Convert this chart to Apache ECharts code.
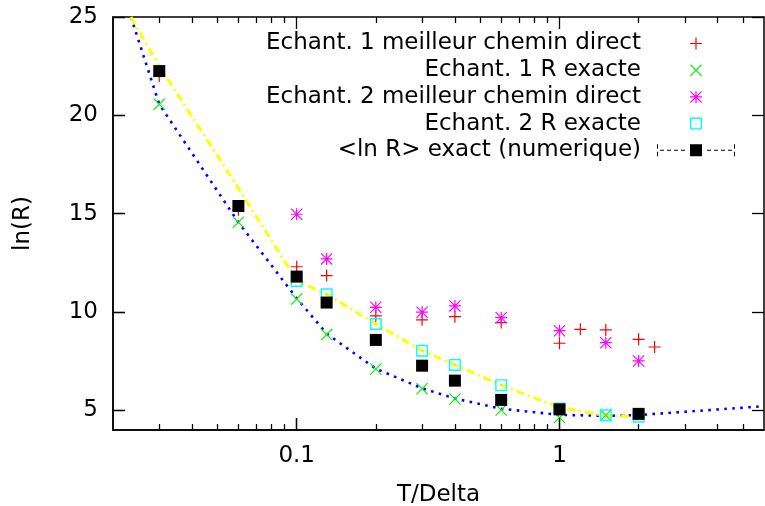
<!DOCTYPE html>
<html>
<head>
<meta charset="utf-8">
<script src="https://cdn.jsdelivr.net/npm/echarts@6/dist/echarts.min.js"></script>
<style>
  html, body { margin: 0; padding: 0; background: #fff; }
  #chart { width: 765px; height: 506px; }
</style>
</head>
<body>
<div id="chart"></div>
<script>
// Echant. 1 meilleur chemin direct (+)
const ech1DirX = [0.03, 0.06, 0.1, 0.13, 0.2, 0.3, 0.4, 0.6, 1, 1.2, 1.5, 2, 2.3];
const ech1DirY = [22.0, 15.2, 12.3, 11.85, 9.8, 9.6, 9.76, 9.46, 8.41, 9.12, 9.09, 8.61, 8.22];

// Echant. 1 R exacte (x)
const ech1ExactX = [0.03, 0.06, 0.1, 0.13, 0.2, 0.3, 0.4, 0.6, 1, 1.5];
const ech1ExactY = [20.56, 14.56, 10.66, 8.85, 7.10, 6.10, 5.58, 5.02, 4.63, 4.75];

// Echant. 2 meilleur chemin direct (*)
const ech2DirX = [0.1, 0.13, 0.2, 0.3, 0.4, 0.6, 1, 1.5, 2];
const ech2DirY = [14.97, 12.70, 10.24, 9.99, 10.31, 9.71, 9.05, 8.44, 7.51];

// Echant. 2 R exacte (open square)
const ech2ExactX = [0.1, 0.13, 0.2, 0.3, 0.4, 0.6, 1, 1.5, 2];
const ech2ExactY = [11.58, 10.90, 9.39, 8.03, 7.31, 6.28, 5.09, 4.75, 4.68];

// <ln R> exact (numerique) (filled square)
const lnRX = [0.03, 0.06, 0.1, 0.13, 0.2, 0.3, 0.4, 0.6, 1, 2];
const lnRY = [22.25, 15.39, 11.80, 10.48, 8.58, 7.27, 6.51, 5.53, 5.05, 4.82];

// blue dotted curve
const blueX = [0.0234, 0.03, 0.06, 0.1, 0.13, 0.2, 0.3, 0.4, 0.6, 1, 1.5, 2, 6];
const blueY = [25, 20.56, 14.56, 10.7, 8.9, 7.12, 6.12, 5.6, 5.08, 4.77, 4.72, 4.76, 5.21];

// yellow dash-dot curve
const yellowX = [0.0234, 0.03, 0.06, 0.1, 0.13, 0.2, 0.3, 0.4, 0.6, 1, 1.5, 2];
const yellowY = [25, 22.5, 16.3, 11.6, 10.9, 9.39, 8.03, 7.31, 6.28, 5.15, 4.73, 4.68];

const xMin = 0.02, xMax = 6, yMin = 4, yMax = 25;
const xMajorTicks = [0.1, 1];
const xMinorTicks = [0.03, 0.04, 0.05, 0.06, 0.07, 0.08, 0.09,
                     0.2, 0.3, 0.4, 0.5, 0.6, 0.7, 0.8, 0.9, 2, 3, 4, 5];
const yTicks = [5, 10, 15, 20, 25];

const FONT = "DejaVu Sans";

function zip(xs, ys) {
    return xs.map((x, i) => [x, ys[i]]);
}

const plusPath = "path://M-0.6,-6L0.6,-6L0.6,6L-0.6,6Z M-6,-0.6L6,-0.6L6,0.6L-6,0.6Z";
const crossPath = "path://M-6,-5.2L-5.2,-6L6,5.2L5.2,6Z M5.2,-6L6,-5.2L-5.2,6L-6,5.2Z";
const starPath = "path://M-0.6,-6L0.6,-6L0.6,6L-0.6,6Z M-6,-0.6L6,-0.6L6,0.6L-6,0.6Z " +
    "M-6,-5.2L-5.2,-6L6,5.2L5.2,6Z M5.2,-6L6,-5.2L-5.2,6L-6,5.2Z";
const boxPath = "path://M-6,-6L6,-6L6,6L-6,6Z M-4.6,-4.6L-4.6,4.6L4.6,4.6L4.6,-4.6Z " +
    "M-0.6,-0.6L0.6,-0.6L0.6,0.6L-0.6,0.6Z";
// legend sample: dashed error bar with square in the middle
const errPath = "path://M0,0L1,0L1,4.5L0,4.5Z M0,7.5L1,7.5L1,12L0,12Z " +
    "M77,0L78,0L78,4.5L77,4.5Z M77,7.5L78,7.5L78,12L77,12Z " +
    "M3,5.5L7,5.5L7,6.5L3,6.5Z M10,5.5L14,5.5L14,6.5L10,6.5Z M17,5.5L21,5.5L21,6.5L17,6.5Z M24,5.5L28,5.5L28,6.5L24,6.5Z " +
    "M33,0L45,0L45,12L33,12Z " +
    "M50,5.5L54,5.5L54,6.5L50,6.5Z M57,5.5L61,5.5L61,6.5L57,6.5Z M64,5.5L68,5.5L68,6.5L64,6.5Z M71,5.5L75,5.5L75,6.5L71,6.5Z";

// grid box in pixels
const GRID = { left: 113, right: 1, top: 17, bottom: 76 };
const plotW = 765 - GRID.left - GRID.right;
const plotH = 506 - GRID.top - GRID.bottom;
const yPerPx = (yMax - yMin) / plotH;
const xDecPerPx = Math.log10(xMax / xMin) / plotW;

// gnuplot-style inward ticks on all four sides, as markLine segments
const tickLines = [];
xMajorTicks.concat(xMinorTicks).forEach(v => {
    const len = (xMajorTicks.includes(v) ? 12 : 6) * yPerPx;
    tickLines.push([{ coord: [v, yMin] }, { coord: [v, yMin + len] }]);
    tickLines.push([{ coord: [v, yMax] }, { coord: [v, yMax - len] }]);
});
const yTickFactor = Math.pow(10, 12 * xDecPerPx);
yTicks.forEach(v => {
    tickLines.push([{ coord: [xMin, v] }, { coord: [xMin * yTickFactor, v] }]);
    tickLines.push([{ coord: [xMax / yTickFactor, v] }, { coord: [xMax, v] }]);
});

function scatter(name, xs, ys, symbol, color, z) {
    return {
        name: name,
        type: "scatter",
        data: zip(xs, ys),
        symbol: symbol,
        symbolSize: 12,
        itemStyle: { color: color, opacity: 1 },
        z: z,
    };
}

const chart = echarts.init(document.getElementById("chart"));

const option = {
    animation: false,
    grid: {
        left: GRID.left, right: GRID.right, top: GRID.top, bottom: GRID.bottom,
        outerBoundsMode: "none",
        show: true, borderColor: "#000", borderWidth: 1.5,
    },
    legend: {
        orient: "vertical",
        align: "right",
        right: 30,
        top: 32,
        padding: 0,
        itemWidth: 78,
        itemHeight: 12,
        itemGap: 3.7,
        selectedMode: false,
        textStyle: { fontFamily: FONT, fontSize: 23, color: "#000", padding: [0, 11, 0, 0] },
        data: [
            { name: "Echant. 1 meilleur chemin direct" },
            { name: "Echant. 1 R exacte" },
            { name: "Echant. 2 meilleur chemin direct" },
            { name: "Echant. 2 R exacte" },
            { name: "<ln R> exact (numerique)", icon: errPath },
        ],
    },
    xAxis: {
        type: "log",
        logBase: 10,
        min: xMin,
        max: xMax,
        axisLine: { show: true, lineStyle: { color: "#000", width: 1.5 } },
        axisTick: { show: true, inside: true, length: 12, customValues: xMajorTicks,
                    lineStyle: { color: "#000", width: 1.3 } },
        axisLabel: {
            show: true, customValues: xMajorTicks, margin: 15,
            fontFamily: FONT, fontSize: 23, color: "#000",
        },
        splitLine: { show: false },
        minorTick: { show: false },
        name: "T/Delta",
        nameLocation: "middle",
        nameGap: 54,
        nameTextStyle: { fontFamily: FONT, fontSize: 23, color: "#000" },
    },
    yAxis: {
        type: "value",
        min: yMin,
        max: yMax,
        axisLine: { show: true, lineStyle: { color: "#000", width: 1.5 } },
        axisTick: { show: true, inside: true, length: 12, customValues: yTicks,
                    lineStyle: { color: "#000", width: 1.3 } },
        axisLabel: {
            show: true, customValues: yTicks, margin: 15,
            fontFamily: FONT, fontSize: 23, color: "#000",
        },
        splitLine: { show: false },
        name: "ln(R)",
        nameLocation: "middle",
        nameRotate: 90,
        nameGap: 78,
        nameTextStyle: { fontFamily: FONT, fontSize: 23, color: "#000" },
    },
    series: [
        {
            name: "courbe bleue",
            type: "line",
            data: zip(blueX, blueY),
            showSymbol: false,
            lineStyle: { color: "#0000ff", width: 2.6, type: [2.6, 5.4] },
            z: 1,
            silent: true,
            markLine: {
                silent: true,
                symbol: ["none", "none"],
                label: { show: false },
                lineStyle: { color: "#000", width: 1.3, type: "solid", opacity: 1 },
                emphasis: { disabled: true },
                data: tickLines,
            },
        },
        {
            name: "courbe jaune",
            type: "line",
            data: zip(yellowX, yellowY),
            showSymbol: false,
            lineStyle: { color: "#ffff00", width: 3, type: [8, 4, 2, 4] },
            z: 1,
            silent: true,
        },
        scatter("Echant. 1 meilleur chemin direct", ech1DirX, ech1DirY, plusPath, "#ff0000", 2),
        scatter("Echant. 1 R exacte", ech1ExactX, ech1ExactY, crossPath, "#00ee00", 2),
        scatter("Echant. 2 meilleur chemin direct", ech2DirX, ech2DirY, starPath, "#ff00ff", 2),
        scatter("Echant. 2 R exacte", ech2ExactX, ech2ExactY, boxPath, "#00ffff", 2),
        scatter("<ln R> exact (numerique)", lnRX, lnRY, "rect", "#000000", 3),
    ],
};

chart.setOption(option);
</script>
</body>
</html>
